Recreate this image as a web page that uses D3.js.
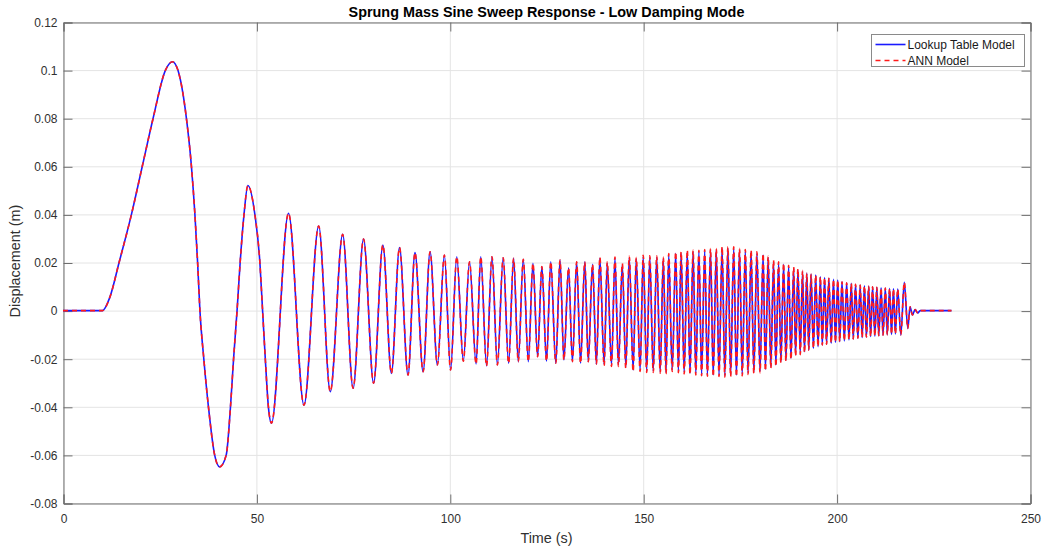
<!DOCTYPE html>
<html>
<head>
<meta charset="utf-8">
<script src="https://cdn.jsdelivr.net/npm/d3@7"></script>
<style>
  body { margin: 0; background: #ffffff; }
  svg { display: block; }
  text { font-family: "Liberation Sans", Arial, Helvetica, sans-serif; }
</style>
</head>
<body>
<svg id="chart" width="1042" height="550"></svg>
<script>
// ---- Chart text ----
const chartTitle = "Sprung Mass Sine Sweep Response - Low Damping Mode";
const xAxisLabel = "Time (s)";
const yAxisLabel = "Displacement (m)";
const seriesNames = ["Lookup Table Model", "ANN Model"];

// ---- Axis ticks ----
const xTicks = [0, 50, 100, 150, 200, 250];
const xTickLabels = ["0", "50", "100", "150", "200", "250"];
const yTicks = [-0.08, -0.06, -0.04, -0.02, 0, 0.02, 0.04, 0.06, 0.08, 0.1, 0.12];
const yTickLabels = ["-0.08", "-0.06", "-0.04", "-0.02", "0", "0.02", "0.04", "0.06", "0.08", "0.1", "0.12"];

// ---- Response samples: time (s) at the turning points of the sweep response ----
const timeS = [
  0, 10.2, 12.1, 14.5, 17.7, 20.5, 23.3, 26.5, 28.3, 29.7,
  31.9, 33.2, 34.1, 34.8, 35.4, 36.4, 37.6, 39.2, 40.5, 42.2,
  43.3, 44.1, 45.0, 45.8, 46.8, 47.8, 49.6, 50.9, 51.6, 52.3,
  53.1, 53.9, 58.3, 62.3, 66.1, 69.1, 72.3, 75.0, 77.7, 80.3,
  82.7, 84.9, 87.0, 89.2, 91.0, 93.1, 94.9, 96.8, 98.6, 100.2,
  101.8, 103.5, 105.1, 106.8, 108.0, 109.5, 110.9, 112.3, 113.8, 115.2,
  116.5, 117.7, 119.0, 120.3, 121.5, 122.7, 123.8, 125.0, 126.1, 127.4,
  128.5, 129.5, 130.7, 131.7, 132.8, 133.8, 134.9, 135.8, 136.9, 137.9,
  138.8, 139.9, 140.7, 141.8, 142.7, 143.6, 144.6, 145.5, 146.4, 147.4,
  148.2, 149.2, 150.0, 150.9, 151.7, 152.6, 153.5, 154.4, 155.2, 155.9,
  156.6, 157.5, 158.4, 159.1, 159.8, 160.6, 161.4, 162.1, 162.9, 163.6,
  164.4, 165.1, 165.9, 166.6, 167.4, 168.1, 168.9, 169.6, 170.4, 171.1,
  171.9, 172.6, 173.4, 174.1, 174.9, 175.6, 176.4, 177.1, 177.9, 178.6,
  179.4, 180.2, 181.0, 181.6, 182.3, 183.0, 183.7, 184.3, 185.0, 185.6,
  186.3, 186.9, 187.6, 188.2, 188.9, 189.4, 190.0, 190.6, 191.2, 191.7,
  192.3, 192.8, 193.4, 194.0, 194.6, 195.2, 195.8, 196.3, 196.9, 197.4,
  198.0, 198.6, 199.2, 199.7, 200.3, 200.8, 201.4, 202.0, 202.6, 203.2,
  203.8, 204.3, 204.9, 205.5, 206.1, 206.6, 207.2, 207.7, 208.3, 208.8,
  209.3, 209.9, 210.4, 210.9, 211.5, 212.0, 212.6, 213.1, 213.7, 214.2,
  214.7, 215.2, 215.8, 216.6, 217.5, 218.4, 219.0, 219.6, 220.3, 221.0,
  221.6, 229.7
];

// Displacement (m), lookup table vehicle model
const lookupDisp = [
  0, 0, 0.0055, 0.02, 0.04, 0.06, 0.08, 0.1, 0.1035, 0.1,
  0.08, 0.06, 0.04, 0.02, 0, -0.02, -0.04, -0.06, -0.065, -0.06,
  -0.04, -0.02, 0, 0.02, 0.04, 0.052, 0.04, 0.02, 0, -0.02,
  -0.04, -0.0468, 0.0405, -0.0393, 0.0352, -0.0337, 0.0317, -0.0323, 0.0298, -0.0302,
  0.0273, -0.0261, 0.0262, -0.0268, 0.0241, -0.0254, 0.0245, -0.0226, 0.0231, -0.0247,
  0.0224, -0.021, 0.0203, -0.0222, 0.0224, -0.023, 0.0224, -0.0226, 0.022, -0.0219,
  0.0217, -0.0212, 0.0213, -0.0212, 0.0197, -0.0192, 0.0183, -0.021, 0.0203, -0.0219,
  0.021, -0.0205, 0.0178, -0.0212, 0.0203, -0.0219, 0.0203, -0.0212, 0.0192, -0.0223,
  0.0217, -0.0223, 0.0197, -0.0226, 0.0217, -0.0226, 0.019, -0.0233, 0.022, -0.0247,
  0.0215, -0.0247, 0.0224, -0.0251, 0.0222, -0.0251, 0.0222, -0.0254, 0.0217, -0.0257,
  0.0231, -0.0247, 0.0238, -0.0252, 0.0238, -0.0257, 0.0245, -0.026, 0.0245, -0.0262,
  0.0245, -0.0265, 0.0248, -0.0267, 0.0252, -0.0268, 0.0252, -0.0268, 0.0259, -0.027,
  0.0259, -0.0268, 0.0259, -0.0268, 0.0252, -0.0265, 0.0248, -0.026, 0.0245, -0.0255,
  0.0238, -0.0252, 0.0231, -0.0245, 0.022, -0.0233, 0.0203, -0.0226, 0.0197, -0.0212,
  0.0192, -0.0205, 0.0183, -0.0198, 0.0176, -0.0185, 0.0169, -0.0178, 0.0162, -0.0171,
  0.0155, -0.0164, 0.0151, -0.0157, 0.0148, -0.015, 0.0141, -0.0143, 0.0137, -0.014,
  0.0134, -0.0136, 0.013, -0.0132, 0.0127, -0.0129, 0.012, -0.0126, 0.0116, -0.0122,
  0.0113, -0.0118, 0.0109, -0.0115, 0.0106, -0.0112, 0.0103, -0.011, 0.0101, -0.0108,
  0.0099, -0.0106, 0.0097, -0.0104, 0.0095, -0.0102, 0.0094, -0.01, 0.0092, -0.0099,
  0.0091, -0.0097, 0.009, -0.0101, 0.0118, -0.0074, 0.0016, -0.0018, 0.0004, -0.001,
  0, 0
];

// Displacement (m), neural network vehicle model
const annDisp = [
  0, 0, 0.0055, 0.02, 0.04, 0.06, 0.08, 0.1, 0.1035, 0.1,
  0.08, 0.06, 0.04, 0.02, 0, -0.02, -0.04, -0.06, -0.065, -0.06,
  -0.04, -0.02, 0, 0.02, 0.04, 0.052, 0.04, 0.02, 0, -0.02,
  -0.04, -0.0468, 0.0405, -0.0393, 0.0352, -0.0337, 0.0317, -0.0323, 0.0298, -0.0302,
  0.0273, -0.0261, 0.0262, -0.0268, 0.0241, -0.0254, 0.0245, -0.0226, 0.0231, -0.0247,
  0.0224, -0.021, 0.0203, -0.0222, 0.0224, -0.023, 0.0224, -0.0226, 0.022, -0.0219,
  0.0217, -0.0212, 0.0213, -0.0212, 0.0197, -0.0192, 0.0183, -0.021, 0.0203, -0.0219,
  0.021, -0.0205, 0.0178, -0.0212, 0.0203, -0.0219, 0.0203, -0.0212, 0.0192, -0.0223,
  0.0222, -0.0229, 0.0203, -0.0232, 0.0223, -0.0232, 0.0196, -0.0239, 0.0226, -0.0253,
  0.0221, -0.0253, 0.023, -0.0257, 0.0228, -0.0257, 0.0228, -0.026, 0.0223, -0.0263,
  0.0237, -0.0253, 0.0244, -0.0258, 0.0244, -0.0263, 0.0251, -0.0266, 0.0251, -0.0268,
  0.0251, -0.0271, 0.0254, -0.0273, 0.0258, -0.0274, 0.0258, -0.0274, 0.0265, -0.0276,
  0.0265, -0.0274, 0.0265, -0.0274, 0.0258, -0.0271, 0.0254, -0.0266, 0.0251, -0.0261,
  0.0244, -0.0258, 0.0237, -0.0251, 0.0226, -0.0239, 0.0209, -0.0232, 0.0203, -0.0218,
  0.0197, -0.021, 0.0188, -0.0203, 0.0181, -0.019, 0.0174, -0.0183, 0.0167, -0.0176,
  0.0155, -0.0164, 0.0151, -0.0157, 0.0148, -0.015, 0.0141, -0.0143, 0.0137, -0.014,
  0.0134, -0.0136, 0.013, -0.0132, 0.0127, -0.0129, 0.012, -0.0126, 0.0116, -0.0122,
  0.0113, -0.0118, 0.0109, -0.0115, 0.0106, -0.0112, 0.0103, -0.011, 0.0101, -0.0108,
  0.0099, -0.0106, 0.0097, -0.0104, 0.0095, -0.0102, 0.0094, -0.01, 0.0092, -0.0099,
  0.0091, -0.0097, 0.009, -0.0101, 0.0118, -0.0074, 0.0016, -0.0018, 0.0004, -0.001,
  0, 0
];

// ---- Layout ----
const plot = { left: 63, right: 1030, top: 22, bottom: 503 };
const svg = d3.select("#chart");

const x = d3.scaleLinear().domain([0, 250]).range([plot.left, plot.right]);
const y = d3.scaleLinear().domain([-0.08, 0.12]).range([plot.bottom, plot.top]);

const gridColor = "#e4e4e4";
const axisColor = "#6e6e6e";
const textColor = "#303030";

// Grid
const grid = svg.append("g").attr("class", "grid");
grid.selectAll("line.v").data(xTicks).join("line")
  .attr("class", "v")
  .attr("x1", d => x(d) + 0.5).attr("x2", d => x(d) + 0.5)
  .attr("y1", plot.top).attr("y2", plot.bottom)
  .attr("stroke", gridColor).attr("stroke-width", 1);
grid.selectAll("line.h").data(yTicks).join("line")
  .attr("class", "h")
  .attr("y1", d => y(d) + 0.5).attr("y2", d => y(d) + 0.5)
  .attr("x1", plot.left).attr("x2", plot.right)
  .attr("stroke", gridColor).attr("stroke-width", 1);

// Axes (ticks point inward, box on all four sides)
const fmtX = d => xTickLabels[xTicks.indexOf(d)];
const fmtY = d => yTickLabels[yTicks.indexOf(d)];
const tickLen = 9;

const xAxis = svg.append("g")
  .attr("transform", `translate(0.5,${plot.bottom + 0.5})`)
  .call(d3.axisBottom(x).tickValues(xTicks).tickFormat(fmtX).tickSize(-tickLen).tickPadding(11));
const xAxisTop = svg.append("g")
  .attr("transform", `translate(0.5,${plot.top + 0.5})`)
  .call(d3.axisTop(x).tickValues(xTicks).tickFormat("").tickSize(-tickLen));
const yAxis = svg.append("g")
  .attr("transform", `translate(${plot.left + 0.5},0.5)`)
  .call(d3.axisLeft(y).tickValues(yTicks).tickFormat(fmtY).tickSize(-tickLen).tickPadding(6));
const yAxisRight = svg.append("g")
  .attr("transform", `translate(${plot.right + 0.5},0.5)`)
  .call(d3.axisRight(y).tickValues(yTicks).tickFormat("").tickSize(-tickLen));

[xAxis, xAxisTop, yAxis, yAxisRight].forEach(g => {
  g.select(".domain").attr("stroke", axisColor);
  g.selectAll(".tick line").attr("stroke", axisColor);
  g.selectAll(".tick text")
    .attr("fill", textColor)
    .style("font-size", "12px")
    .style("font-family", "'Liberation Sans', Arial, sans-serif");
});

// Data lines
const lookupPoints = timeS.map((t, i) => [t, lookupDisp[i]]);
const annPoints = timeS.map((t, i) => [t, annDisp[i]]);
const line = d3.line()
  .x(d => x(d[0]))
  .y(d => y(d[1]))
  .curve(d3.curveMonotoneX);

svg.append("path")
  .datum(lookupPoints)
  .attr("d", line)
  .attr("fill", "none")
  .attr("stroke", "#1a1aff")
  .attr("stroke-width", 1.6)
  .attr("stroke-linejoin", "round");

svg.append("path")
  .datum(annPoints)
  .attr("d", line)
  .attr("fill", "none")
  .attr("stroke", "#ff1a1a")
  .attr("stroke-width", 1.6)
  .attr("stroke-dasharray", "5,4");

// Title and axis labels
svg.append("text")
  .attr("x", (plot.left + plot.right) / 2)
  .attr("y", 17)
  .attr("text-anchor", "middle")
  .attr("fill", "#000")
  .style("font-size", "14.4px")
  .style("font-weight", "bold")
  .text(chartTitle);

svg.append("text")
  .attr("x", (plot.left + plot.right) / 2)
  .attr("y", 543)
  .attr("text-anchor", "middle")
  .attr("fill", textColor)
  .style("font-size", "14.4px")
  .text(xAxisLabel);

svg.append("text")
  .attr("transform", `translate(20,261) rotate(-90)`)
  .attr("text-anchor", "middle")
  .attr("fill", textColor)
  .style("font-size", "14.4px")
  .text(yAxisLabel);

// Legend
const legend = svg.append("g").attr("transform", "translate(871.5,34.5)");
legend.append("rect")
  .attr("width", 153).attr("height", 32)
  .attr("fill", "#fff").attr("stroke", "#8a8a8a").attr("stroke-width", 1);
const legendStyles = [
  { color: "#1a1aff", dash: null },
  { color: "#ff1a1a", dash: "5,4" }
];
seriesNames.forEach((name, i) => {
  const row = legend.append("g").attr("transform", `translate(0,${10 + i * 16})`);
  row.append("line")
    .attr("x1", 4).attr("x2", 34).attr("y1", 0).attr("y2", 0)
    .attr("stroke", legendStyles[i].color)
    .attr("stroke-width", 1.6)
    .attr("stroke-dasharray", legendStyles[i].dash);
  row.append("text")
    .attr("x", 36).attr("y", 4.5)
    .attr("fill", "#1a1a1a")
    .style("font-size", "12px")
    .text(name);
});
</script>
</body>
</html>
